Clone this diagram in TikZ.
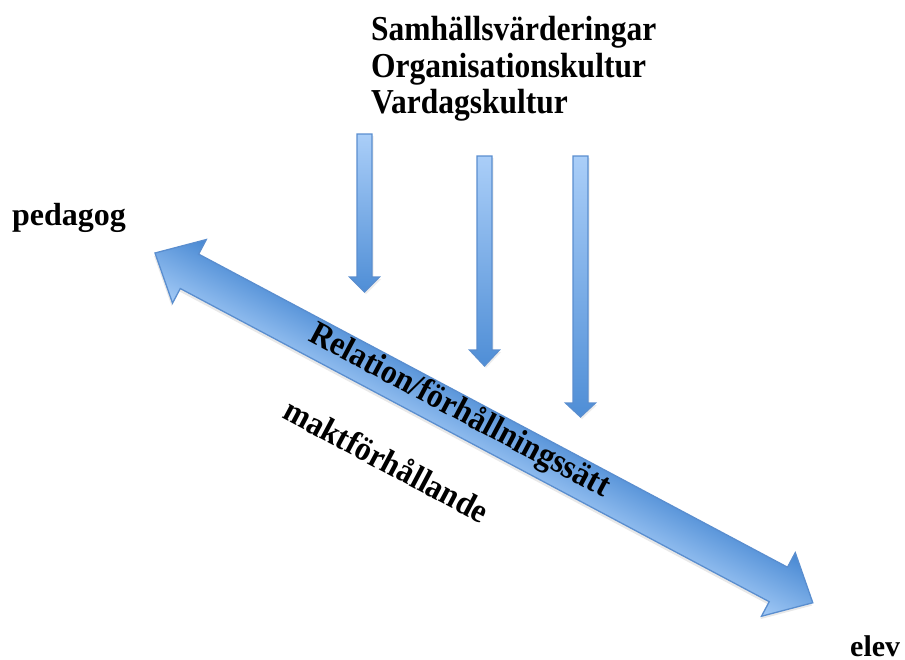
\documentclass[tikz,border=0pt]{standalone}
\usepackage{fontspec}
\setmainfont{Liberation Serif}
\usetikzlibrary{shadows}
\definecolor{edgeblue}{HTML}{5A8ECF}
\definecolor{bigtop}{HTML}{4687D2}
\definecolor{bigbottom}{HTML}{A3CAF6}
\definecolor{thintop}{HTML}{AACEF8}
\definecolor{thinbottom}{HTML}{4F8ED6}
\tikzset{
  bigarrow/.style={draw=edgeblue, line width=1.3pt, line join=miter,
    top color=bigtop, bottom color=bigbottom,
    drop shadow={opacity=0.18, shadow xshift=0.5pt, shadow yshift=-3pt}},
  thinarrow/.style={draw=edgeblue, line width=1.2pt, line join=miter,
    top color=thintop, bottom color=thinbottom,
    drop shadow={opacity=0.15, shadow xshift=1.5pt, shadow yshift=-2pt}},
  toptxt/.style={font=\fontsize{35}{37}\selectfont\bfseries, inner sep=0pt, anchor=base west},
  sidetxt/.style={font=\fontsize{32}{34}\selectfont\bfseries, inner sep=0pt, anchor=base west},
  slanttxt/.style={font=\fontsize{34}{36}\selectfont\bfseries, inner sep=0pt},
  pics/downarrow/.style 2 args={code={
    \path[thinarrow] (-7.5,0) -- (7.5,0) -- (7.5,-#1) -- (15,-#1) -- (0,-#2)
      -- (-15,-#1) -- (-7.5,-#1) -- cycle;}}
}
\begin{document}
\begin{tikzpicture}[x=1pt,y=1pt]
\useasboundingbox (0,0) rectangle (905,-659);
% vertical influence arrows
\coordinate (a1) at (364.5,-134);
\coordinate (a2) at (484.5,-156);
\coordinate (a3) at (580.5,-156);
\pic at (a1) {downarrow={143}{158}};
\pic at (a2) {downarrow={194}{210}};
\pic at (a3) {downarrow={247}{261}};
% top texts
\node[toptxt] (t1) at (371,-40) {\scalebox{0.9}[1]{Samhällsvärderingar}};
\node[toptxt] (t2) at (371,-77) {\scalebox{0.9}[1]{Organisationskultur}};
\node[toptxt] (t3) at (371,-113) {\scalebox{0.9}[1]{Vardagskultur}};
% side labels
\node[sidetxt] (ped) at (12,-225) {pedagog};
\node[sidetxt, font=\fontsize{30}{32}\selectfont\bfseries] (elev) at (850,-656) {elev};
% big double arrow
\begin{scope}[transform canvas={shift={(155,-253)}, rotate=-28}]
  \path[bigarrow] (0,0) -- (39,36) -- (39,19.5) -- (706,19.5) -- (706,36)
    -- (745,0) -- (706,-36) -- (706,-19.5) -- (39,-19.5) -- (39,-36) -- cycle;
  \node[slanttxt] (rel) at (343,3) {\scalebox{0.93}[1]{Relation/förhållningssätt}};
  \node[slanttxt] (makt) at (302,-74) {\scalebox{0.93}[1]{maktförhållande}};
\end{scope}
\end{tikzpicture}
\end{document}
